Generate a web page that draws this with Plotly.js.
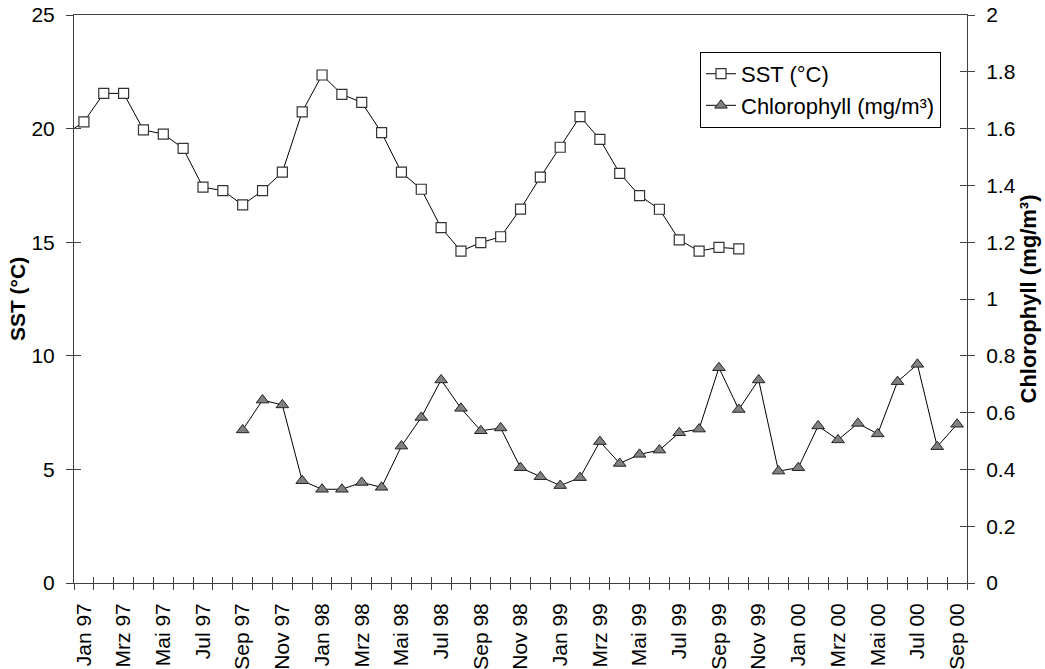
<!DOCTYPE html>
<html><head><meta charset="utf-8">
<script src="https://cdn.plot.ly/plotly-3.0.1.min.js"></script>
<style>html,body{margin:0;padding:0;background:#fff}#chart{width:1045px;height:669px}</style>
</head><body><div id="chart"></div>
<script>
// Monthly categories (Dez 96 lies just left of the visible range; its SST line enters from the axis)
const months = ['Dez 96',
  'Jan 97','Feb 97','Mrz 97','Apr 97','Mai 97','Jun 97','Jul 97','Aug 97','Sep 97','Okt 97','Nov 97','Dez 97',
  'Jan 98','Feb 98','Mrz 98','Apr 98','Mai 98','Jun 98','Jul 98','Aug 98','Sep 98','Okt 98','Nov 98','Dez 98',
  'Jan 99','Feb 99','Mrz 99','Apr 99','Mai 99','Jun 99','Jul 99','Aug 99','Sep 99','Okt 99','Nov 99','Dez 99',
  'Jan 00','Feb 00','Mrz 00','Apr 00','Mai 00','Jun 00','Jul 00','Aug 00','Sep 00'];

const sst = [19.7,
  20.30,21.55,21.55,19.94,19.76,19.13,17.42,17.27,16.64,17.27,18.08,20.74,
  22.36,21.51,21.15,19.82,18.08,17.33,15.64,14.61,14.98,15.24,16.46,17.86,
  19.18,20.53,19.53,18.03,17.05,16.45,15.10,14.61,14.77,14.71,null,null,
  null,null,null,null,null,null,null,null,null];

const chlorophyll = [null,
  null,null,null,null,null,null,null,null,0.539,0.644,0.627,0.360,
  0.330,0.330,0.354,0.337,0.482,0.583,0.715,0.615,0.536,0.546,0.406,0.374,
  0.343,0.371,0.498,0.421,0.453,0.468,0.529,0.542,0.758,0.611,0.715,0.394,
  0.406,0.553,0.504,0.562,0.525,0.709,0.770,0.480,0.559];

const sstTicks = [0,5,10,15,20,25];
const chlTicks = [0,0.2,0.4,0.6,0.8,1,1.2,1.4,1.6,1.8,2];

const xIdx = months.map((m, i) => i);
const boundaries = months.map((m, i) => i + 0.5);
const labelPos = xIdx.filter(i => i % 2 === 1);
const labelText = labelPos.map(i => months[i]);
const xRange = [0.5, months.length - 0.5];

const FONT = 'Liberation Sans, Arial, Helvetica, sans-serif';
const AX = '#404040';

// helper traces with no points, only so that the overlay axes (labels / inner tick halves) get drawn
const axisHolder = (xa, ya) => ({x: [null], y: [null], xaxis: xa, yaxis: ya, type: 'scatter', mode: 'markers',
  showlegend: false, hoverinfo: 'skip'});

const traces = [
  {
    x: xIdx, y: sst, name: 'SST (°C)', type: 'scatter', mode: 'lines+markers',
    xaxis: 'x', yaxis: 'y',
    line: {color: '#000', width: 1},
    marker: {symbol: 'square', size: 10, color: '#fff', line: {color: '#333', width: 1.2}},
    cliponaxis: true
  },
  {
    x: xIdx, y: chlorophyll, name: 'Chlorophyll (mg/m³)', type: 'scatter', mode: 'lines+markers',
    xaxis: 'x', yaxis: 'y2',
    line: {color: '#000', width: 1},
    marker: {symbol: 'triangle-up', size: 11, color: '#808080', line: {color: '#222', width: 1}},
    cliponaxis: true
  },
  axisHolder('x2', 'y'),
  axisHolder('x3', 'y3'),
  axisHolder('x3', 'y4')
];

const layout = {
  width: 1045, height: 669, autosize: false,
  margin: {l: 74, r: 78, t: 15, b: 86, pad: 0},
  paper_bgcolor: '#fff', plot_bgcolor: '#fff',
  font: {family: FONT, size: 21, color: '#000'},
  showlegend: true,
  legend: {
    x: 0.701, y: 0.935, xanchor: 'left', yanchor: 'top',
    bgcolor: '#fff', bordercolor: '#000', borderwidth: 1,
    font: {family: FONT, size: 22, color: '#000'}
  },
  xaxis: {
    type: 'linear', range: xRange, tickmode: 'array', tickvals: boundaries,
    showticklabels: false, ticks: 'outside', ticklen: 6, tickwidth: 1, tickcolor: AX,
    showline: true, linecolor: AX, linewidth: 1, mirror: true,
    showgrid: false, zeroline: false, fixedrange: true
  },
  xaxis2: {
    type: 'linear', overlaying: 'x', anchor: 'y', side: 'bottom', range: xRange,
    tickmode: 'array', tickvals: labelPos, ticktext: labelText, tickangle: -90,
    ticks: '', ticklabelstandoff: 15, showline: false, showgrid: false, zeroline: false,
    tickfont: {family: FONT, size: 21, color: '#000'}
  },
  xaxis3: {
    type: 'linear', overlaying: 'x', anchor: 'y3', side: 'bottom', range: xRange,
    tickmode: 'array', tickvals: boundaries, showticklabels: false,
    ticks: 'inside', ticklen: 6, tickwidth: 1, tickcolor: AX,
    showline: false, showgrid: false, zeroline: false
  },
  yaxis: {
    range: [0, 25], tickmode: 'array', tickvals: sstTicks,
    ticks: 'outside', ticklen: 7, tickwidth: 1, tickcolor: AX,
    ticklabelstandoff: 7,
    showline: true, linecolor: AX, linewidth: 1, showgrid: false, zeroline: false,
    tickfont: {family: FONT, size: 21, color: '#000'},
    title: {text: 'SST (°C)', standoff: 0, font: {family: FONT, size: 21, weight: 'bold', color: '#000'}}
  },
  yaxis2: {
    overlaying: 'y', side: 'right', anchor: 'x', range: [0, 2], tickmode: 'array', tickvals: chlTicks,
    ticks: 'outside', ticklen: 7, tickwidth: 1, tickcolor: AX,
    ticklabelstandoff: 7,
    showline: true, linecolor: AX, linewidth: 1, showgrid: false, zeroline: false,
    tickfont: {family: FONT, size: 21, color: '#000'},
    title: {text: 'Chlorophyll (mg/m³)', standoff: 5, font: {family: FONT, size: 22, weight: 'bold', color: '#000'}}
  },
  yaxis3: {
    overlaying: 'y', side: 'left', anchor: 'x3', range: [0, 25], tickmode: 'array', tickvals: sstTicks,
    showticklabels: false, ticks: 'inside', ticklen: 7, tickwidth: 1, tickcolor: AX,
    showline: false, showgrid: false, zeroline: false
  },
  yaxis4: {
    overlaying: 'y', side: 'right', anchor: 'x3', range: [0, 2], tickmode: 'array', tickvals: chlTicks,
    showticklabels: false, ticks: 'inside', ticklen: 7, tickwidth: 1, tickcolor: AX,
    showline: false, showgrid: false, zeroline: false
  }
};

Plotly.newPlot('chart', traces, layout, {staticPlot: true, displayModeBar: false});
</script>
</body></html>
